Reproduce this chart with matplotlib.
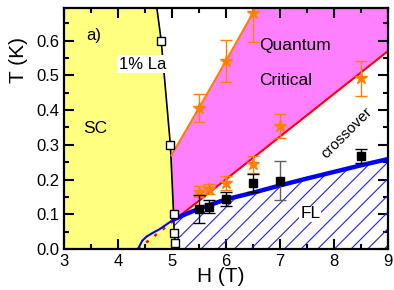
import matplotlib
matplotlib.use("Agg")
import matplotlib.pyplot as plt
import numpy as np

plt.rcParams['font.family'] = ['Liberation Sans', 'DejaVu Sans']
plt.rcParams['hatch.linewidth'] = 0.8

# SC phase boundary (1% La), open squares are measured points
sc_line_H = [4.68, 4.80, 4.97, 5.03, 5.04, 5.06, 5.07]
sc_line_T = [0.74, 0.60, 0.30, 0.10, 0.045, 0.018, 0.0]
sq_H = [4.80, 4.97, 5.03, 5.04, 5.06]
sq_T = [0.60, 0.30, 0.10, 0.045, 0.018]

# upper orange line (quantum critical boundary)
qc_H = [4.99, 5.5, 6.0, 6.5, 6.66]
qc_T = [0.27, 0.406, 0.542, 0.68, 0.74]
star_up_H = [5.5, 6.0, 6.5]
star_up_T = [0.406, 0.542, 0.68]
star_up_err = [0.04, 0.06, 0.085]

# lower orange stars
star_lo_H = [5.5, 5.69, 6.0, 6.5, 7.0, 8.5]
star_lo_T = [0.165, 0.173, 0.189, 0.244, 0.355, 0.491]
star_lo_err = [0.015, 0.015, 0.02, 0.025, 0.034, 0.05]

# black squares (FL boundary data)
fl_H = [5.5, 5.69, 6.0, 6.5, 7.0, 8.5]
fl_T = [0.115, 0.122, 0.143, 0.190, 0.197, 0.269]
fl_err = [0.04, 0.018, 0.02, 0.025, 0.056, 0.02]
fl_col = ['black', 'black', 'black', 'black', '#606060', 'black']

# red crossover line
red_H = [4.37, 5.02, 9.0]
red_T = [0.0, 0.08, 0.57]

# blue FL line
blue_H = [4.37, 4.45, 4.53, 4.65, 4.77, 4.90, 5.03, 5.2, 5.5, 6.0, 6.5, 7.0, 7.5, 8.0, 8.5, 9.0]
blue_T = [0.0, 0.024, 0.036, 0.047, 0.057, 0.071, 0.085, 0.097, 0.116, 0.143, 0.162, 0.183, 0.203, 0.222, 0.241, 0.259]

fig = plt.figure(figsize=(3.94, 2.90), dpi=100)
ax = fig.add_axes([64/394, 1-249/290, 324/394, 241/290])
ax.set_xlim(3, 9)
ax.set_ylim(0, 0.694)

# yellow SC region
ax.fill([3] + sc_line_H + [3], [0.74] + sc_line_T + [0.0],
        color='#FFFF80', lw=0, zorder=1)

# magenta quantum critical region
mag_H = qc_H + [9.0, 9.0, 5.02]
mag_T = qc_T + [0.74, red_T[-1], 0.08]
ax.fill(mag_H, mag_T, color='#FF80FF', lw=0, zorder=1)

# hatched FL region
bH = np.array(blue_H)
bT = np.array(blue_T)
m = bH >= 5.03
hatch_H = list(bH[m]) + [9.0, 5.07]
hatch_T = list(bT[m]) + [0.0, 0.0]
ax.fill(hatch_H, hatch_T, facecolor='none', edgecolor='#2020FF', hatch='//', lw=0, zorder=2)

# lines
ax.plot(sc_line_H, sc_line_T, color='black', lw=1.2, zorder=3)
ax.plot(qc_H, qc_T, color='#FF8000', lw=1.5, zorder=3)
ax.plot(red_H[1:], red_T[1:], color='red', lw=1.5, zorder=3)
ax.plot(red_H[:2], red_T[:2], color='red', lw=1.8, ls=(0, (1.2, 3)), zorder=3)
ax.plot(bH[bH <= 5.03], bT[bH <= 5.03], color='#0000FF', lw=1.5, zorder=4)
ax.plot(bH[m], bT[m], color='#0000FF', lw=3.2, zorder=4)

# error bars and markers
ax.errorbar(star_up_H, star_up_T, yerr=star_up_err, fmt='*', color='#FF8000',
            ms=9, capsize=4, elinewidth=1, capthick=1, zorder=5)
ax.errorbar(star_lo_H, star_lo_T, yerr=star_lo_err, fmt='*', color='#FF8000',
            ms=9, capsize=4, elinewidth=1, capthick=1, zorder=5)
for h, t, e, c in zip(fl_H, fl_T, fl_err, fl_col):
    ax.errorbar([h], [t], yerr=[e], fmt='none', ecolor=c, capsize=4,
                elinewidth=1, capthick=1, zorder=6)
ax.plot(fl_H, fl_T, 's', color='black', ms=6, zorder=7)
ax.plot(sq_H, sq_T, 's', mfc='white', mec='black', mew=1, ms=6, zorder=7)

# labels
ax.text(3.56, 0.615, 'a)', fontsize=12, ha='center', va='center', zorder=8)
ax.text(4.45, 0.532, '1% La', fontsize=12, ha='center', va='center', zorder=8,
        bbox=dict(facecolor='white', edgecolor='none', pad=1))
ax.text(3.57, 0.347, 'SC', fontsize=12.5, ha='center', va='center', zorder=8)
ax.text(7.28, 0.585, 'Quantum', fontsize=12.5, ha='center', va='center', zorder=8)
ax.text(7.11, 0.484, 'Critical', fontsize=12.5, ha='center', va='center', zorder=8)
ax.text(8.24, 0.334, 'crossover', fontsize=11, rotation=45, ha='center', va='center', zorder=8)
ax.text(7.56, 0.101, 'FL', fontsize=12.5, ha='center', va='center', zorder=8,
        bbox=dict(facecolor='white', edgecolor='none', pad=0.5))

ax.set_xticks([3, 4, 5, 6, 7, 8, 9])
ax.set_xticks(np.arange(3.5, 9, 1.0), minor=True)
ax.set_yticks([0.0, 0.1, 0.2, 0.3, 0.4, 0.5, 0.6])
ax.set_yticklabels(['0.0', '0.1', '0.2', '0.3', '0.4', '0.5', '0.6'])
ax.set_yticks(np.arange(0.05, 0.69, 0.1), minor=True)
ax.tick_params(which='both', direction='in', top=True, right=True, labelsize=12, width=1.5)
ax.tick_params(which='major', length=7)
ax.tick_params(which='minor', length=3.5)
for s in ax.spines.values():
    s.set_linewidth(1.6)
    s.set_zorder(10)

ax.set_xlabel('H (T)', fontsize=15)
ax.xaxis.set_label_coords(0.485, -0.073)
ax.set_ylabel('T (K)', fontsize=15)
ax.yaxis.set_label_coords(-0.111, 0.784)

fig.savefig('out.png', dpi=100)
